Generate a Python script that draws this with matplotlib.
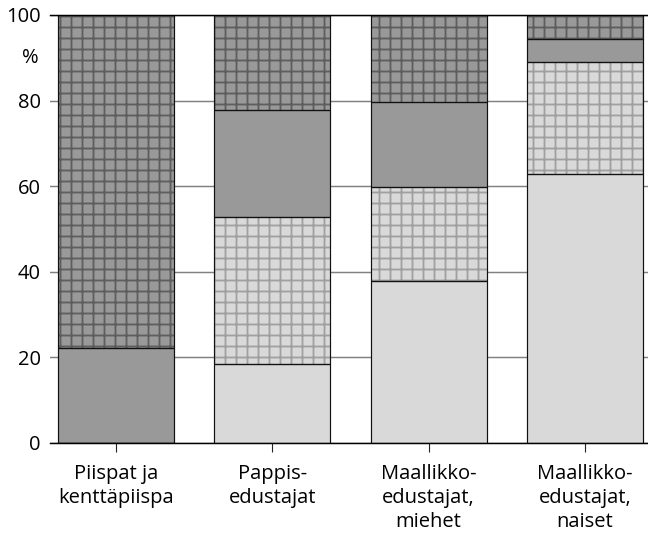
import matplotlib
matplotlib.use("Agg")
import matplotlib.pyplot as plt
import matplotlib.transforms as mtransforms
import numpy as np

# Data (percent, bottom to top)
categories = ["Piispat ja\nkenttäpiispa", "Pappis-\nedustajat",
              "Maallikko-\nedustajat,\nmiehet", "Maallikko-\nedustajat,\nnaiset"]
light_solid = [0.0, 18.5, 37.8, 62.9]
light_hatch = [0.0, 34.3, 22.0, 26.1]
dark_solid = [22.1, 25.0, 19.8, 5.3]
dark_hatch = [77.9, 22.2, 20.4, 5.7]
yticks = [0, 20, 40, 60, 80, 100]

DPI = 132
FS = 11
plt.rcParams['font.family'] = ['Open Sans', 'DejaVu Sans']
plt.rcParams['hatch.linewidth'] = 1.0

fig = plt.figure(figsize=(648 / DPI, 535 / DPI), dpi=DPI)
ax = fig.add_axes([50 / 648, 1 - 443 / 535, 598 / 648, 428 / 535])

x = np.arange(len(categories))
w = 0.742
segments = [
    (light_solid, '#d9d9d9', None, None),
    (light_hatch, '#d9d9d9', '++', '#a0a0a0'),
    (dark_solid, '#999999', None, None),
    (dark_hatch, '#999999', '++', '#5e5e5e'),
]
bottom = np.zeros(len(categories))
for vals, fc, hatch, hc in segments:
    vals = np.array(vals)
    if hatch:
        ax.bar(x, vals, w, bottom=bottom, color=fc, hatch=hatch,
               edgecolor=hc, linewidth=0, zorder=2)
    else:
        ax.bar(x, vals, w, bottom=bottom, color=fc, linewidth=0, zorder=2)
    # outline of each segment
    ax.bar(x, vals, w, bottom=bottom, fill=False, edgecolor='#111111',
           linewidth=0.65, zorder=3)
    bottom += vals

ax.set_xlim(-0.422, 3.403)
ax.set_ylim(0, 100)
ax.set_yticks(yticks)
ax.set_xticks(x)
ax.set_xticklabels(categories, fontsize=FS, linespacing=1.25)
ax.tick_params(axis='y', length=0, pad=5, labelsize=FS)
ax.tick_params(axis='x', direction='out', length=5, width=0.6,
               color='#222222', pad=6.5)

ax.set_axisbelow(True)
ax.yaxis.grid(True, color='#808080', linewidth=0.8)
for s in ['left', 'right']:
    ax.spines[s].set_visible(False)
for s in ['top', 'bottom']:
    ax.spines[s].set_color('black')
    ax.spines[s].set_linewidth(0.8)
    ax.spines[s].set_zorder(4)

trans = mtransforms.blended_transform_factory(ax.transAxes, ax.transData)
ax.text(-11 / 598, 90, '%', transform=trans, ha='right', va='center',
        fontsize=FS)

fig.savefig('out.png', dpi=DPI)
